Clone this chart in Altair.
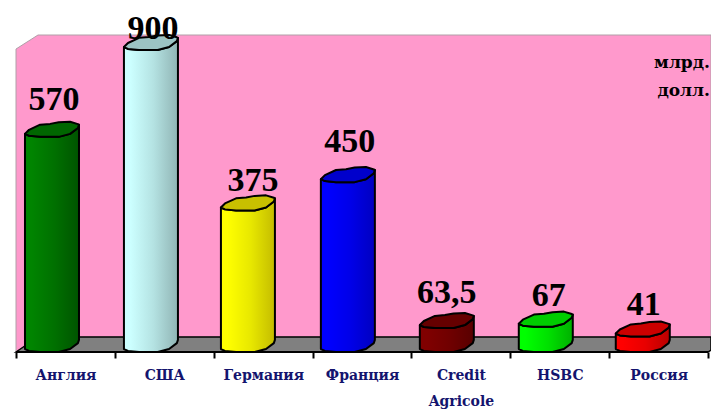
import json
import altair as alt
import pandas as pd

categories = ["Англия", "США", "Германия", "Франция", "Credit Agricole", "HSBC", "Россия"]
values = [570, 900, 375, 450, 63.5, 67, 41]
value_labels = ["570", "900", "375", "450", "63,5", "67", "41"]
unit_labels = ["млрд.", "долл."]

# axis of the original stops at 800: taller columns are cut there
Y_MAX = 800
PX_PER_VALUE = 302 / 800
PX_PER_CAT = 98.86
W, H = 703, 344
X_DOMAIN = [-8 / PX_PER_CAT, (W - 8) / PX_PER_CAT]
Y_DOMAIN = [-7 / PX_PER_VALUE, (H - 7) / PX_PER_VALUE]

body_left = ["#008400", "#ccffff", "#ffff00", "#0000ff", "#800000", "#00ff00", "#ff0000"]
body_mid = ["#007000", "#b4e2e2", "#e8e800", "#0000e8", "#700000", "#00e000", "#e80000"]
body_right = ["#005400", "#90b4b4", "#c4bc00", "#0000c0", "#580000", "#00b000", "#b80000"]
cap_colors = ["#006600", "#9cc4c4", "#c8c000", "#0000cc", "#660000", "#00cc00", "#cc0000"]
label_lift_px = [20, 4, 12, 23, 18, 14, 15]
label_shift_px = [2, 2, 5, 2, 0, 3, 1]
bar_shift = [0.364, 0.365, 0.346, 0.357, 0.358, 0.359, 0.34]

# outline of a column's end, in half-widths
shape_x = [-1, -0.85, -0.44, -0.07, 0.25, 0.67, 0.96, 1]
shape_up = [0.15, 0.0, -0.19, -0.22, -0.28, -0.3, -0.21, -0.19]
shape_lo = [0.15, 0.22, 0.26, 0.26, 0.26, 0.15, -0.07, -0.19]
HALF = 27


def v(px):
    return px / PX_PER_VALUE


def c(px):
    return px / PX_PER_CAT


label_expr = "[" + ",".join(json.dumps(n.split(" "), ensure_ascii=False) for n in categories) + ",['']][datum.value]"
x_axis = alt.Axis(values=list(range(8)), domain=False, grid=False, tickColor="#000000",
                  tickSize=6, tickWidth=2, labelExpr=label_expr, labelOffset=49.5,
                  labelPadding=10, labelAngle=0, labelFont="DejaVu Serif", labelFontWeight="bold",
                  labelFontSize=14, labelColor="#14146e", labelLineHeight=26,
                  labelOverlap=False, labelBound=False, labelFlush=False)

X = lambda f: alt.X(f, type="quantitative", scale=alt.Scale(domain=X_DOMAIN, nice=False, zero=False), axis=x_axis, title=None)
Y = lambda f: alt.Y(f, type="quantitative", scale=alt.Scale(domain=Y_DOMAIN, nice=False, zero=False), axis=None, title=None, stack=None)

depth_x, depth_y = 22, 15
front = -7
back = front + depth_y
right_end = X_DOMAIN[1]

wall = pd.DataFrame({
    "x": [0, c(depth_x), right_end],
    "lo": [v(front), v(back), v(back)],
    "up": [v(front + 303), v(310), v(310)],
})
floor = pd.DataFrame({
    "x": [0, c(depth_x), 7, right_end],
    "lo": [v(front), v(front), v(front), v(front + 2)],
    "up": [v(front), v(back), v(back), v(back)],
})

layers = [
    alt.Chart(wall).mark_area(orient="vertical", fill="#ff99cc", stroke="#b0a0a8", strokeWidth=1, opacity=1)
    .encode(x=X("x"), y=Y("up"), y2=alt.Y2("lo")),
    alt.Chart(floor).mark_area(orient="vertical", fill="#808080", stroke="#000000", strokeWidth=1.5, opacity=1)
    .encode(x=X("x"), y=Y("up"), y2=alt.Y2("lo")),
]

# front edge of the floor
axis_df = pd.DataFrame({"x": [0], "x2": [7], "y": [v(front)]})
layers.append(
    alt.Chart(axis_df).mark_rule(color="#000000", strokeWidth=2).encode(
        x=X("x"), x2=alt.X2("x2"), y=Y("y"),
    )
)

for i, val in enumerate(values):
    drawn = min(val, Y_MAX)
    centre = i + bar_shift[i]
    xs = [centre + c(s * HALF) for s in shape_x]
    # screen y grows downward, values upward
    body = pd.DataFrame({
        "x": xs,
        "base": [-v(s * HALF) for s in shape_lo],
        "top": [drawn - v(s * HALF) for s in shape_lo],
    })
    cap = pd.DataFrame({
        "x": xs,
        "lo": [drawn - v(s * HALF) for s in shape_lo],
        "up": [drawn - v(s * HALF) for s in shape_up],
    })
    grad = alt.Gradient(
        gradient="linear", x1=0, x2=1, y1=0, y2=0,
        stops=[
            alt.GradientStop(color=body_left[i], offset=0.12),
            alt.GradientStop(color=body_mid[i], offset=0.55),
            alt.GradientStop(color=body_right[i], offset=1),
        ],
    )
    layers.append(
        alt.Chart(body).mark_area(orient="vertical", fill=grad, stroke="#000000", strokeWidth=2, strokeJoin="round", opacity=1)
        .encode(x=X("x"), y=Y("base"), y2=alt.Y2("top"))
    )
    layers.append(
        alt.Chart(cap).mark_area(orient="vertical", fill=cap_colors[i], stroke="#000000", strokeWidth=2, strokeJoin="round", opacity=1)
        .encode(x=X("x"), y=Y("lo"), y2=alt.Y2("up"))
    )

labels = pd.DataFrame({
    "x": [i + s + c(d) for i, (s, d) in enumerate(zip(bar_shift, label_shift_px))],
    "y": [min(val, Y_MAX) + v(l) for val, l in zip(values, label_lift_px)],
    "t": value_labels,
})
layers.append(
    alt.Chart(labels).mark_text(font="Liberation Serif", fontWeight="bold", fontSize=34, color="#000000", baseline="alphabetic", align="center")
    .encode(x=X("x"), y=Y("y"), text=alt.Text("t:N"))
)

units = pd.DataFrame({"x": [c(694)] * 2, "y": [v(277), v(249)], "t": unit_labels})
layers.append(
    alt.Chart(units).mark_text(font="DejaVu Serif", fontWeight="bold", fontSize=17, color="#000000", baseline="alphabetic", align="right")
    .encode(x=X("x"), y=Y("y"), text=alt.Text("t:N"))
)

chart = alt.layer(*layers).properties(
    width=W, height=H, background="#ffffff",
    autosize=alt.AutoSizeParams(type="none"),
    padding={"left": 0, "top": 0, "right": 0, "bottom": 57},
).configure_view(stroke=None)

chart.save("out.html", embed_options={"renderer": "svg", "actions": False})
